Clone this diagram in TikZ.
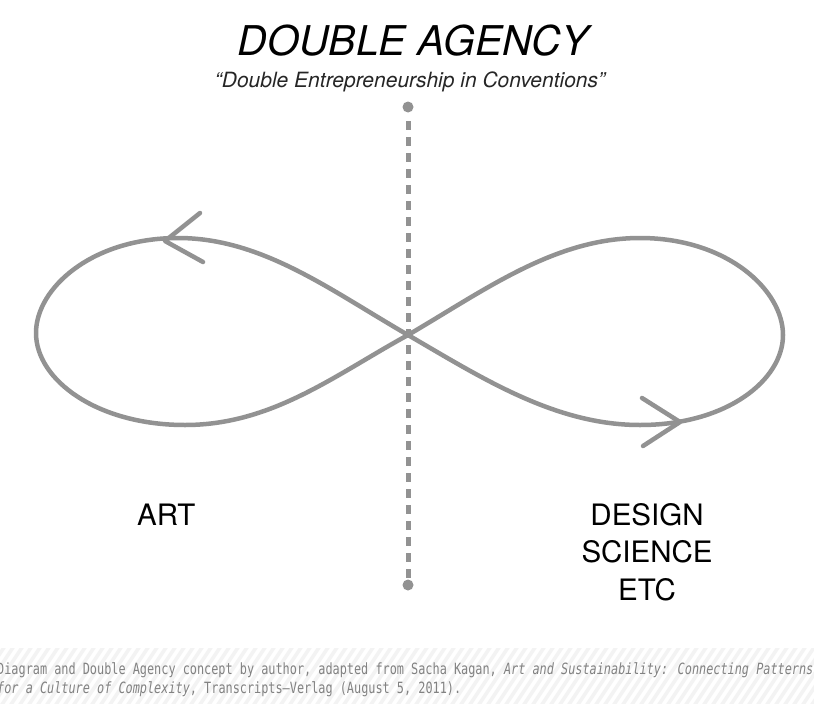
\documentclass[tikz,border=0pt]{standalone}
\usepackage{fontspec}
\setmainfont{TeX Gyre Heros}
\newfontfamily\capfont[FakeStretch=0.765]{DejaVu Sans Mono}
\definecolor{curvegray}{RGB}{146,146,146}
\definecolor{capgray}{RGB}{130,130,130}
\definecolor{hatchgray}{RGB}{243,243,243}
\tikzset{
  loopline/.style={draw=curvegray, line width=4.5pt, line cap=round, line join=round},
  axisline/.style={draw=curvegray, line width=5pt, dash pattern=on 9pt off 7pt},
  enddot/.style={circle, fill=curvegray, inner sep=0pt, minimum size=11pt},
  label/.style={font=\fontsize{29.5}{35}\selectfont, text=black, inner sep=0pt},
  captxt/.style={font=\capfont\fontsize{15.5}{18}\selectfont, text=capgray, inner sep=0pt, anchor=base west},
}
\begin{document}
\begin{tikzpicture}[x=1pt,y=-1pt]
\useasboundingbox (0,0) rectangle (814,704);
\fill[white] (0,0) rectangle (814,704);
% hatched caption band
\begin{scope}
\clip (0,648) rectangle (814,704);
\foreach \i in {-80,-71,...,830} {
  \draw[hatchgray, line width=3.5pt] (\i,706) -- (\i+40,646);
}
\end{scope}
% title
\node[font=\itshape\fontsize{41}{48}\selectfont, anchor=base, inner sep=0pt] (title) at (413,55) {DOUBLE AGENCY};
\node[font=\itshape\fontsize{21}{25}\selectfont, anchor=base, inner sep=0pt, text=black!85] (sub) at (410,87) {“Double Entrepreneurship in Conventions”};
% vertical axis
\node[enddot] (top) at (408,107) {};
\node[enddot] (bot) at (408,585) {};
\draw[axisline] (top.center) ++(0,14) coordinate (a1) -- (408,580) coordinate (a2);
% infinity curve
\coordinate (C) at (408,335);
\draw[loopline] (C) .. controls (330,290) and (262,238) .. (178,238)
  .. controls (92,238) and (36,288) .. (36,333)
  .. controls (36,380) and (97,425) .. (185,425)
  .. controls (272,425) and (335,375) .. (C)
  .. controls (485,290) and (555,238) .. (640,238)
  .. controls (727,238) and (783,290) .. (783,335)
  .. controls (783,380) and (727,425) .. (640,425)
  .. controls (555,425) and (482,378) .. (C);
% arrowheads
\coordinate (l1) at (200,213); \coordinate (lt) at (165,241); \coordinate (l2) at (203,262);
\draw[loopline] (l1) -- (lt) -- (l2);
\coordinate (r1) at (642,398); \coordinate (rt) at (680,422); \coordinate (r2) at (643,446);
\draw[loopline] (r1) -- (rt) -- (r2);
% labels
\node[label, anchor=base west] (art) at (137,525) {ART};
\node[label, anchor=base] (design) at (647,525) {DESIGN};
\node[label, anchor=base] (science) at (647,562) {SCIENCE};
\node[label, anchor=base] (etc) at (647,600) {ETC};
% caption
\node[captxt] (cap1) at (-3,674) {Diagram and Double Agency concept by author, adapted from Sacha Kagan, \textit{Art and Sustainability: Connecting Patterns}};
\node[captxt] (cap2) at (-3,693) {\textit{for a Culture of Complexity}, Transcripts–Verlag (August 5, 2011).};
\end{tikzpicture}
\end{document}
